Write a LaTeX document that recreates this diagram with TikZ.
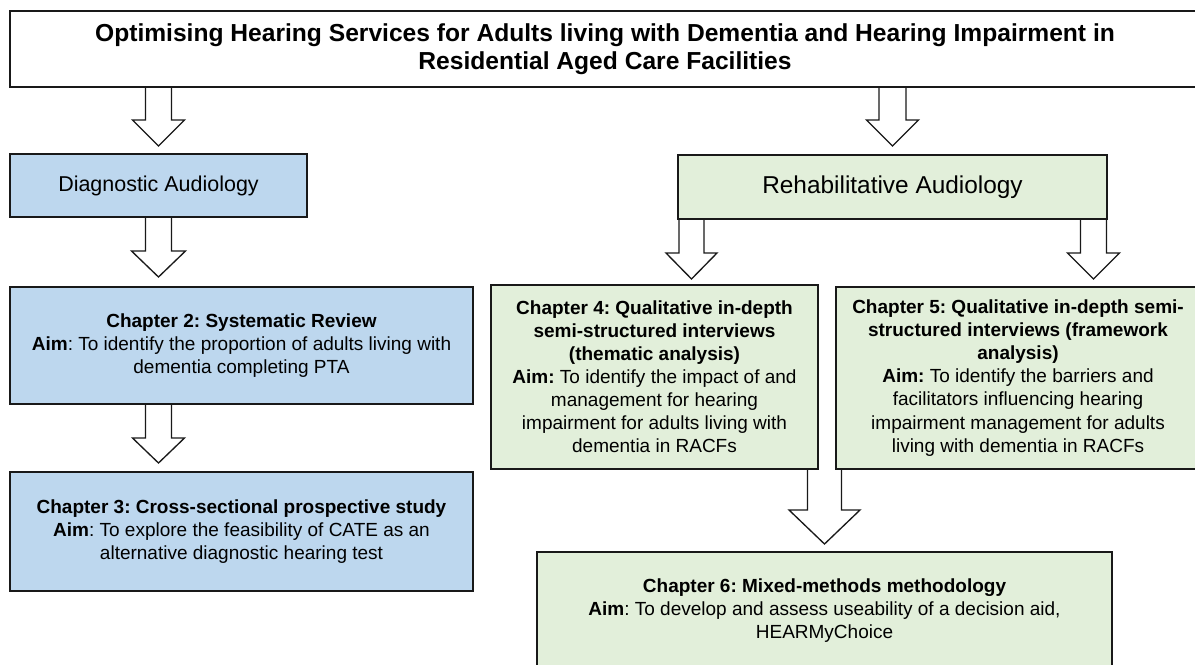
\documentclass[tikz,border=0pt]{standalone}
\usepackage{fontspec}
\setmainfont{Liberation Sans}
\frenchspacing
\usetikzlibrary{calc,backgrounds}
\definecolor{diagblue}{RGB}{189,215,238}
\definecolor{rehabgreen}{RGB}{226,239,218}
\definecolor{edge}{RGB}{25,25,25}
\newcommand\blockarrow[5]{%
  \filldraw[barrow] ($(#1)+(-#3,0)$) -- ($(#2)+(-#3,-#5)$) -- ($(#2)+(-#4,-#5)$) -- (#2)
    -- ($(#2)+(#4,-#5)$) -- ($(#2)+(#3,-#5)$) -- ($(#1)+(#3,0)$);}
\tikzset{
  boxbase/.style 2 args={draw=edge, line width=1pt, outer sep=0pt, inner sep=0pt,
    align=center, minimum width=#1*0.75pt, minimum height=#2*0.75pt, text=black},
  bodytext/.style={font=\fontsize{14.25}{17.3}\selectfont},
  bluebox/.style 2 args={boxbase={#1}{#2}, fill=diagblue, bodytext},
  greenbox/.style 2 args={boxbase={#1}{#2}, fill=rehabgreen, bodytext},
  barrow/.style={draw=edge, fill=white, line width=1pt, line join=miter},
}
\begin{document}
\begin{tikzpicture}[x=0.75pt,y=-0.75pt]
\useasboundingbox (0,0) rectangle (1195,664);

\node[boxbase={1190}{76}, fill=white, font=\fontsize{18.45}{21}\selectfont\bfseries] (title) at (605,49)
  {Optimising Hearing Services for Adults living with Dementia and Hearing Impairment in\\Residential Aged Care Facilities};

\node[boxbase={297}{63}, fill=diagblue, font=\fontsize{16.1}{19}\selectfont] (diag) at (158.5,185.5) {Diagnostic Audiology};
\node[boxbase={429}{64}, fill=rehabgreen, font=\fontsize{18.3}{21}\selectfont] (rehab) at (892.5,187) {Rehabilitative Audiology};

\node[bluebox={463}{117}] (ch2) at (241.5,345.5)
  {\textbf{Chapter 2: Systematic Review}\\\textbf{Aim}: To identify the proportion of adults living with\\dementia completing PTA};
\node[bluebox={463}{119}] (ch3) at (241.5,531.5)
  {\textbf{Chapter 3: Cross-sectional prospective study}\\\textbf{Aim}: To explore the feasibility of CATE as an\\alternative diagnostic hearing test};

\node[greenbox={327}{184}] (ch4) at (654.5,377)
  {\textbf{Chapter 4: Qualitative in-depth}\\\textbf{semi-structured interviews}\\\textbf{(thematic analysis)}\\\textbf{Aim:} To identify the impact of and\\management for hearing\\impairment for adults living with\\dementia in RACFs};
\node[greenbox={364}{182}] (ch5) at (1018,378)
  {\textbf{Chapter 5: Qualitative in-depth semi-}\\\textbf{structured interviews (framework}\\\textbf{analysis)}\\\textbf{Aim:} To identify the barriers and\\facilitators influencing hearing\\impairment management for adults\\living with dementia in RACFs};

\node[greenbox={575}{118}] (ch6) at (824.5,611)
  {\textbf{Chapter 6: Mixed-methods methodology}\\\textbf{Aim}: To develop and assess useability of a decision aid,\\HEARMyChoice};

\coordinate (a1s) at (title.south -| diag.north);
\coordinate (a1e) at ($(diag.north)+(0,-8)$);
\coordinate (a2s) at (title.south -| rehab.north);
\coordinate (a2e) at ($(rehab.north)+(0,-9)$);
\coordinate (a3s) at (diag.south);
\coordinate (a3e) at ($(ch2.north -| diag.south)+(0,-10)$);
\coordinate (a4s) at (ch2.south -| diag.south);
\coordinate (a4e) at ($(ch3.north -| diag.south)+(0,-9)$);
\coordinate (a5s) at ($(rehab.south west)+(13.5,0)$);
\coordinate (a5e) at ($(ch4.north -| a5s)+(0,-6)$);
\coordinate (a6s) at ($(rehab.south east)+(-13.5,0)$);
\coordinate (a6e) at ($(ch5.north -| a6s)+(0,-8)$);
\coordinate (a7s) at ($(ch4.north -| ch6.north)+(0,20)$);
\coordinate (a7e) at ($(ch6.north)+(0,-8)$);

\begin{pgfonlayer}{background}
\fill[white] (0,0) rectangle (1195,664);
\blockarrow{a1s}{a1e}{13}{26}{26}
\blockarrow{a2s}{a2e}{13.5}{26}{26}
\blockarrow{a3s}{a3e}{13}{27}{26}
\blockarrow{a4s}{a4e}{13}{26}{25}
\blockarrow{a5s}{a5e}{12.5}{25.5}{26}
\blockarrow{a6s}{a6e}{13}{26}{26}
\blockarrow{a7s}{a7e}{17}{35.5}{34}
\end{pgfonlayer}
\end{tikzpicture}
\end{document}
